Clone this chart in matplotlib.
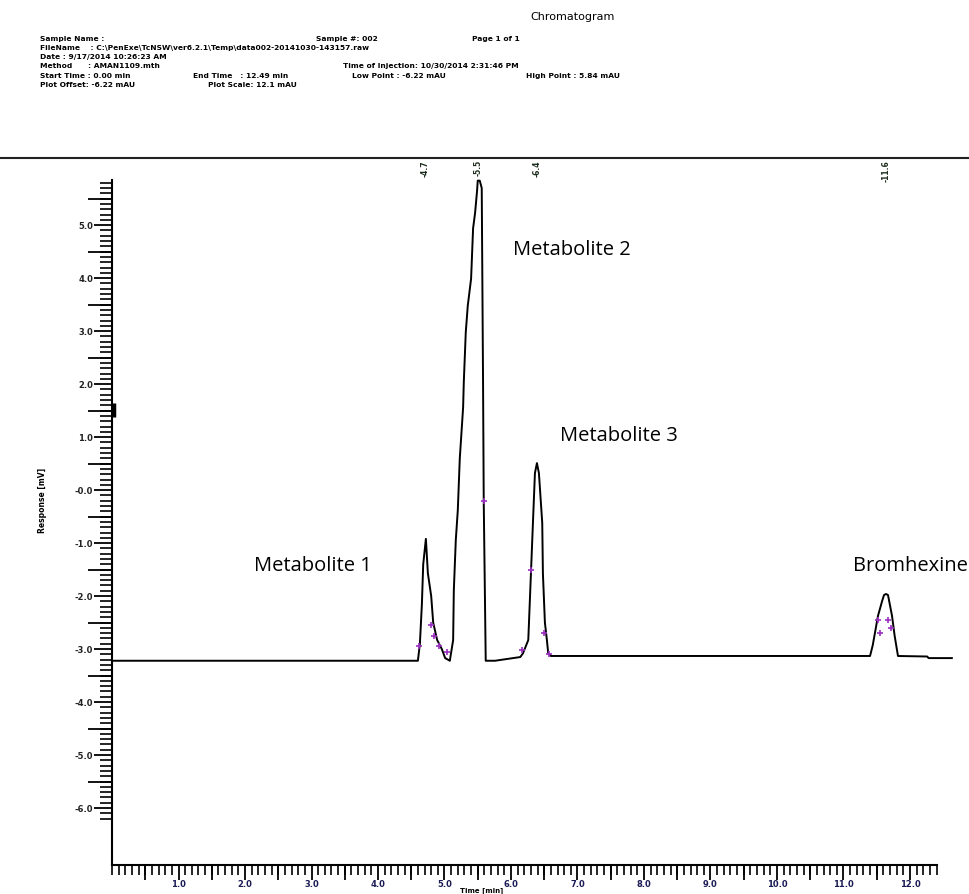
import matplotlib
matplotlib.use("Agg")
import matplotlib.pyplot as plt
import matplotlib.transforms as mtrans
import numpy as np
from matplotlib.lines import Line2D
from matplotlib.ticker import FixedLocator, NullFormatter

# trace (time in min, response)
time_min = [0.00, 4.60, 4.63, 4.66, 4.68, 4.72, 4.75, 4.80, 4.83, 4.89, 4.96, 5.01, 5.08,
            5.13, 5.14, 5.17, 5.20, 5.23, 5.28, 5.29, 5.32, 5.35, 5.40, 5.43, 5.46, 5.49,
            5.50, 5.53, 5.56, 5.58, 5.59, 5.62, 5.76, 6.14, 6.18, 6.26, 6.30, 6.33, 6.36,
            6.39, 6.42, 6.47, 6.48, 6.51, 6.54, 6.56, 6.60, 11.40, 11.44, 11.52, 11.58,
            11.61, 11.64, 11.67, 11.73, 11.77, 11.82, 12.26, 12.28, 12.63]
response = [-3.22, -3.22, -2.90, -2.15, -1.40, -0.92, -1.57, -2.00, -2.50, -2.83, -3.00, -3.17, -3.22,
            -2.83, -1.90, -0.94, -0.38, 0.60, 1.56, 2.03, 2.98, 3.48, 3.99, 4.94, 5.23, 5.65,
            5.84, 5.84, 5.70, 2.00, -0.20, -3.22, -3.22, -3.15, -3.08, -2.83, -1.57, -0.62, 0.32,
            0.51, 0.32, -0.62, -1.57, -2.50, -2.83, -3.08, -3.13, -3.13, -2.93, -2.37, -2.10,
            -1.98, -1.96, -1.98, -2.37, -2.75, -3.13, -3.14, -3.17, -3.17]

# integration marks (purple)
mark_t = [4.62, 4.79, 4.84, 4.92, 5.04, 5.59, 6.16, 6.30, 6.50, 6.57, 11.52, 11.55, 11.67, 11.72]
mark_v = [-2.95, -2.55, -2.75, -2.95, -3.05, -0.20, -3.02, -1.50, -2.70, -3.10, -2.45, -2.70, -2.45, -2.60]

# retention times printed under the top rule
rt_values = [4.71, 5.50, 6.39, 11.64]
rt_labels = ["-4.7", "-5.5", "-6.4", "-11.6"]

peak_names = ["Metabolite 1", "Metabolite 2", "Metabolite 3", "Bromhexine"]
name_t = [3.02, 6.03, 6.74, 11.14]
name_v = [-1.43, 4.53, 1.02, -1.43]

y_ticks = [-6, -5, -4, -3, -2, -1, 0, 1, 2, 3, 4, 5]
y_tick_labels = ["-6.0", "-5.0", "-4.0", "-3.0", "-2.0", "-1.0", "-0.0",
                 "1.0", "2.0", "3.0", "4.0", "5.0"]
x_ticks = [1, 2, 3, 4, 5, 6, 7, 8, 9, 10, 11, 12]
x_tick_labels = ["1.0", "2.0", "3.0", "4.0", "5.0", "6.0", "7.0", "8.0", "9.0",
                 "10.0", "11.0", "12.0"]

header_lines = [
    (0.041, 0.956, "Sample Name :"),
    (0.326, 0.956, "Sample #: 002"),
    (0.487, 0.956, "Page 1 of 1"),
    (0.041, 0.946, "FileName    : C:\\PenExe\\TcNSW\\ver6.2.1\\Temp\\data002-20141030-143157.raw"),
    (0.041, 0.936, "Date : 9/17/2014 10:26:23 AM"),
    (0.041, 0.926, "Method      : AMAN1109.mth"),
    (0.354, 0.926, "Time of Injection: 10/30/2014 2:31:46 PM"),
    (0.041, 0.915, "Start Time : 0.00 min"),
    (0.199, 0.915, "End Time   : 12.49 min"),
    (0.363, 0.915, "Low Point : -6.22 mAU"),
    (0.542, 0.915, "High Point : 5.84 mAU"),
    (0.041, 0.905, "Plot Offset: -6.22 mAU"),
    (0.214, 0.905, "Plot Scale: 12.1 mAU"),
]

narrow = ["Liberation Sans Narrow", "DejaVu Sans"]

fig = plt.figure(figsize=(9.7, 8.94), dpi=100)
fig.text(0.59, 0.981, "Chromatogram", ha="center", va="center", fontsize=8,
         family=narrow)
for hx, hy, htxt in header_lines:
    fig.text(hx, hy, htxt, ha="left", va="center", fontsize=5.4, family=narrow,
             fontweight="bold")

# top rule across the page
fig.add_artist(Line2D([0, 1], [0.8233, 0.8233], color="#222222", lw=1.5))

ax = fig.add_axes([0.1155, 0.0324, 0.874, 0.7774])
ax.set_xlim(0, 12.75)
ax.set_ylim(-7.075, 6.04)

ax.plot(time_min, response, color="black", lw=1.4, clip_on=False)
ax.plot(mark_t, mark_v, ls="none", marker="+", ms=5, mew=1.2, color="#9b30c0")
ax.plot([0.03, 0.03], [1.38, 1.65], color="black", lw=2.5, solid_capstyle="butt")

for nt, nv, nm in zip(name_t, name_v, peak_names):
    ha = "center" if nm == "Metabolite 1" else "left"
    ax.text(nt, nv, nm, ha=ha, va="center", fontsize=14.5, family="Open Sans")

rt_trans = mtrans.blended_transform_factory(ax.transData, fig.transFigure)
for rt, rl in zip(rt_values, rt_labels):
    ax.text(rt, 0.821, rl, transform=rt_trans, rotation=90, ha="center", va="top",
            fontsize=5.5, fontweight="bold", color="#1e2e1e", family=narrow)

for side in ["top", "right"]:
    ax.spines[side].set_visible(False)
ax.spines["left"].set_bounds(-7.075, 5.85)
ax.spines["bottom"].set_bounds(0, 12.4)
ax.spines["left"].set_linewidth(1.5)
ax.spines["bottom"].set_linewidth(1.5)

ax.set_yticks(y_ticks, labels=y_tick_labels)
ax.yaxis.set_minor_locator(FixedLocator(np.arange(-62, 59) / 10))
ax.set_xticks(x_ticks, labels=x_tick_labels)
ax.xaxis.set_minor_locator(FixedLocator(np.arange(0, 125) / 10))
ax.tick_params(axis="y", which="major", length=13, width=1.3, pad=0.5,
               labelsize=6, labelcolor="#222222")
ax.tick_params(axis="y", which="minor", length=9, width=1.2)
ax.tick_params(axis="x", which="major", length=10.5, width=1.3, pad=0,
               labelsize=6, labelcolor="#1a1a55")
ax.tick_params(axis="x", which="minor", length=7, width=1.2)
for lab in ax.get_xticklabels() + ax.get_yticklabels():
    lab.set_fontweight("bold")
    lab.set_family(narrow)

# half-unit ticks are drawn longer
sec_y = ax.secondary_yaxis("left")
sec_y.set_yticks(np.arange(-5.5, 6, 1.0))
sec_y.yaxis.set_major_formatter(NullFormatter())
sec_y.tick_params(length=17, width=1.3)
sec_y.spines["left"].set_visible(False)
sec_x = ax.secondary_xaxis("bottom")
sec_x.set_xticks(np.arange(0.5, 12.5, 1.0))
sec_x.xaxis.set_major_formatter(NullFormatter())
sec_x.tick_params(length=11, width=1.3)
sec_x.spines["bottom"].set_visible(False)

fig.text(0.044, 0.44, "Response [mV]", rotation=90, ha="center", va="center",
         fontsize=5.5, fontweight="bold", family=narrow)
fig.text(0.497, 0.0005, "Time [min]", ha="center", va="bottom", fontsize=5,
         fontweight="bold", family=narrow)

fig.savefig("out.png", dpi=100)
